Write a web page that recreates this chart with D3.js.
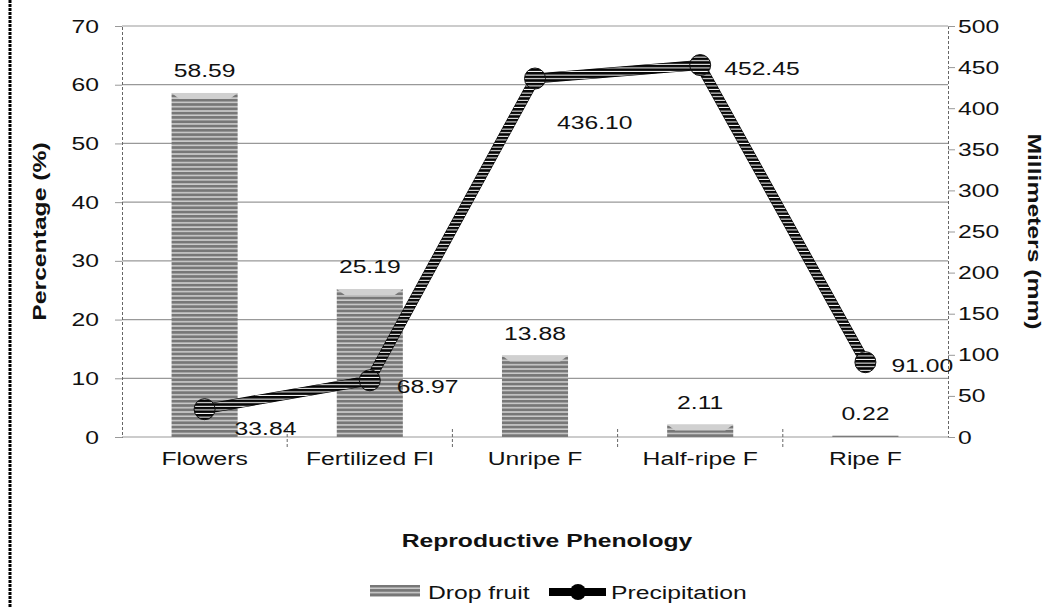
<!DOCTYPE html>
<html>
<head>
<meta charset="utf-8">
<script src="https://cdn.jsdelivr.net/npm/d3@7"></script>
<style>
  html, body { margin: 0; padding: 0; background: #fff; }
  svg text { font-family: 'Liberation Sans', Arial, sans-serif; fill: #111; }
</style>
</head>
<body>
<div id="chart"></div>
<script>
// 数据
const categories = ['Flowers', 'Fertilized Fl', 'Unripe F', 'Half-ripe F', 'Ripe F'];
const dropFruit = [58.59, 25.19, 13.88, 2.11, 0.22];
const precipitation = [33.84, 68.97, 436.10, 452.45, 91.00];
const leftTicks = [0, 10, 20, 30, 40, 50, 60, 70];
const rightTicks = [0, 50, 100, 150, 200, 250, 300, 350, 400, 450, 500];

const width = 1050, height = 608;
const margin = { left: 122, right: 102, top: 26, bottom: 171 };
const FS = '19px';   // 字号
const SX = 1.3;      // 文字横向拉伸

const svg = d3.select('#chart').append('svg')
  .attr('width', width).attr('height', height);

// 拉伸文字
const label = (g, x, y, txt, anchor, bold, rot) => {
  const t = g.append('text')
    .attr('transform', `translate(${x},${y})` + (rot ? ` rotate(${rot})` : '') + ` scale(${SX},1)`)
    .attr('text-anchor', anchor || 'start')
    .style('font-size', FS)
    .text(txt);
  if(bold) { t.style('font-weight', 'bold'); }
  return t;
};

// 条纹填充
const defs = svg.append('defs');
const pat = defs.append('pattern').attr('id', 'stripe')
  .attr('patternUnits', 'userSpaceOnUse').attr('width', 8).attr('height', 4.3);
pat.append('rect').attr('width', 8).attr('height', 4.3).attr('fill', '#777');
pat.append('rect').attr('y', 2.9).attr('width', 8).attr('height', 1.2).attr('fill', '#e6e6e6');

const lpat = defs.append('pattern').attr('id', 'lstripe')
  .attr('patternUnits', 'userSpaceOnUse').attr('width', 8).attr('height', 3.6);
lpat.append('rect').attr('width', 8).attr('height', 3.6).attr('fill', '#050505');
lpat.append('rect').attr('y', 2.6).attr('width', 8).attr('height', 1).attr('fill', '#ffffff');

const x = d3.scaleBand().domain(categories)
  .range([margin.left, width - margin.right]).paddingInner(0.6).paddingOuter(0.3);
const xc = d3.scaleBand().domain(categories).range([margin.left, width - margin.right]);
const yL = d3.scaleLinear().domain([0, 70]).range([height - margin.bottom, margin.top]);
const yR = d3.scaleLinear().domain([0, 500]).range([height - margin.bottom, margin.top]);

// 左边框虚线
svg.append('line').attr('x1', 10).attr('x2', 10).attr('y1', 0).attr('y2', height)
  .attr('stroke', '#000').attr('stroke-width', 3).attr('stroke-dasharray', '3,1');

// 网格线
svg.append('g').selectAll('line').data(leftTicks).enter().append('line')
  .attr('x1', margin.left).attr('x2', width - margin.right)
  .attr('y1', d => yL(d)).attr('y2', d => yL(d))
  .attr('stroke', '#999').attr('stroke-width', 1.2);

// 左轴
const gl = svg.append('g').attr('transform', `translate(${margin.left},0)`)
  .call(d3.axisLeft(yL).tickValues(leftTicks).tickSize(7));
gl.select('.domain').attr('stroke', '#666').attr('stroke-dasharray', '3,2');
gl.selectAll('.tick line').attr('stroke', '#999');
gl.selectAll('.tick text').attr('x', -23 / SX).attr('transform', `scale(${SX},1)`)
  .style('font-size', FS).style('font-family', "'Liberation Sans', Arial, sans-serif").attr('fill', '#222');

// 右轴
const gr = svg.append('g').attr('transform', `translate(${width - margin.right},0)`)
  .call(d3.axisRight(yR).tickValues(rightTicks).tickSize(7));
gr.select('.domain').attr('stroke', '#666').attr('stroke-dasharray', '3,2');
gr.selectAll('.tick line').attr('stroke', '#999');
gr.selectAll('.tick text').attr('x', 10 / SX).attr('transform', `scale(${SX},1)`)
  .style('font-size', FS).style('font-family', "'Liberation Sans', Arial, sans-serif").attr('fill', '#222');

// 类别分隔刻度
svg.append('g').selectAll('line').data(categories.slice(1)).enter().append('line')
  .attr('x1', d => xc(d)).attr('x2', d => xc(d))
  .attr('y1', yL(0) - 8).attr('y2', yL(0) + 10)
  .attr('stroke', '#666').attr('stroke-dasharray', '3,2');

// 类别标签
const gc = svg.append('g');
categories.forEach(c => label(gc, xc(c) + xc.bandwidth() / 2, yL(0) + 28, c, 'middle'));

// 柱子
const bars = svg.append('g').selectAll('g').data(dropFruit).enter().append('g');
bars.append('rect')
  .attr('x', (d, i) => x(categories[i])).attr('width', x.bandwidth())
  .attr('y', d => yL(d)).attr('height', d => yL(0) - yL(d))
  .attr('fill', 'url(#stripe)');
bars.filter(d => yL(0) - yL(d) > 8).append('path')
  .attr('d', (d, i) => {
    const x0 = x(categories[i]), w = x.bandwidth(), y0 = yL(d);
    return `M${x0},${y0}H${x0 + w}L${x0 + w - 8},${y0 + 6}H${x0 + 8}Z`;
  })
  .attr('fill', '#d0d0d0');
const gb = svg.append('g');
dropFruit.forEach((d, i) =>
  label(gb, x(categories[i]) + x.bandwidth() / 2, yL(d) - 16, d.toFixed(2), 'middle'));

// 降水折线
const pts = precipitation.map((v, i) => [xc(categories[i]) + xc.bandwidth() / 2, yR(v)]);
const line = d3.line();
svg.append('path').attr('d', line(pts)).attr('fill', 'none')
  .attr('stroke', '#000').attr('stroke-width', 10).attr('stroke-linejoin', 'round');
svg.append('path').attr('d', line(pts)).attr('fill', 'none')
  .attr('stroke', 'url(#lstripe)').attr('stroke-width', 9).attr('stroke-linejoin', 'round');
svg.append('g').selectAll('circle').data(pts).enter().append('circle')
  .attr('cx', d => d[0]).attr('cy', d => d[1]).attr('r', 10.5)
  .attr('fill', 'url(#lstripe)').attr('stroke', '#111').attr('stroke-width', 1);

const lblOff = [[30, 26], [27, 13], [22, 50], [24, 10], [26, 10]];
const gp = svg.append('g');
precipitation.forEach((d, i) =>
  label(gp, pts[i][0] + lblOff[i][0], pts[i][1] + lblOff[i][1], d.toFixed(2)));

// 轴标题
label(svg, 46, (yL(0) + yL(70)) / 2, 'Percentage (%)', 'middle', true, -90);
label(svg, 1028, (yR(0) + yR(500)) / 2, 'Millimeters (mm)', 'middle', true, 90);
label(svg, 547, 547, 'Reproductive Phenology', 'middle', true);

// 图例
const lg = svg.append('g');
lg.append('rect').attr('x', 370).attr('y', 585).attr('width', 50).attr('height', 12)
  .attr('fill', 'url(#stripe)');
label(lg, 428, 599, 'Drop fruit');
lg.append('line').attr('x1', 549).attr('x2', 606).attr('y1', 592).attr('y2', 592)
  .attr('stroke', '#000').attr('stroke-width', 8);
lg.append('circle').attr('cx', 578).attr('cy', 592).attr('r', 8).attr('fill', '#000');
label(lg, 611, 599, 'Precipitation');
</script>
</body>
</html>
